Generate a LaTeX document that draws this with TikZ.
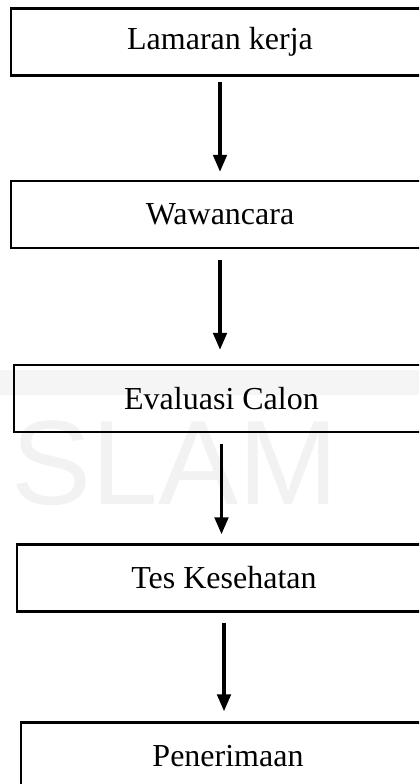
\documentclass[tikz,border=0pt]{standalone}
\usepackage{fontspec}
\setmainfont{Liberation Serif}
\newfontfamily\wmfont{Liberation Sans}
\usetikzlibrary{arrows.meta}

\begin{document}
\begin{tikzpicture}[x=0.375pt, y=-0.375pt]


% GLOBAL SETTINGS
\newlength{\px}
\setlength{\px}{0.375pt}
\newcommand{\boxh}{67}
\tikzset{
  stage/.style={draw, line width=0.8pt, rectangle, minimum height=\boxh\px,
    inner sep=0pt, font=\fontsize{12}{14}\selectfont},
  flow/.style={line width=1.4pt, -{Triangle[length=6.4pt, width=5pt]}},
}

% PAGE
\useasboundingbox (0,0) rectangle (419,784);
\clip (0,0) rectangle (419,784);

% WATERMARK
\fill[black!4] (0,370) rectangle (419,395);
\node[text=black!5, font=\wmfont\fontsize{45}{45}\selectfont, anchor=west]
  (wm) at (2,463) {SLAM};

% STAGES
\foreach \i/\x/\y/\w/\txt in {
  1/220/42/418/Lamaran kerja,
  2/220/214.5/418/Wawancara,
  3/221.5/398.5/415/Evaluasi Calon,
  4/224/578/414/Tes Kesehatan,
  5/228/756/414/Penerimaan} {
  \node[stage, minimum width=\w\px] (S\i) at (\x,\y) {\txt};
};



% ARROWS
\foreach \i/\j/\s/\e in {1/2/5/8, 2/3/11/14, 3/4/11/9, 4/5/10/10} {
  \draw[flow, shorten <=\s\px, shorten >=\e\px] (S\i.south) -- (S\i.south |- S\j.north);
};

\end{tikzpicture}
\end{document}
